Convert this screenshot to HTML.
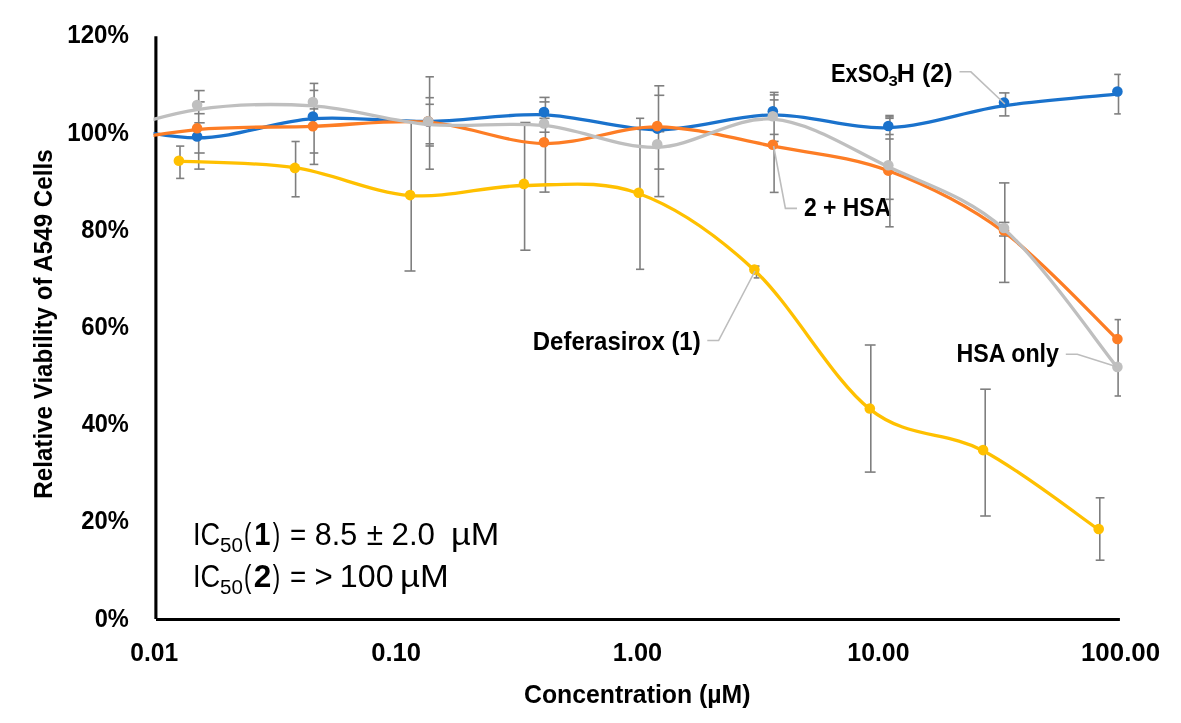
<!DOCTYPE html>
<html><head><meta charset="utf-8"><title>Relative Viability of A549 Cells</title>
<style>
html,body{margin:0;padding:0;background:#fff;}
body{width:1181px;height:723px;overflow:hidden;}
svg{display:block;will-change:transform;}
text{font-family:"Liberation Sans",sans-serif;}
</style></head><body>
<svg width="1181" height="723" viewBox="0 0 1181 723">
<defs><clipPath id="plot"><rect x="153.5" y="20" width="1000" height="600"/></clipPath></defs>
<rect x="0" y="0" width="1181" height="723" fill="#fff"/>

<g stroke="#000" stroke-width="3" fill="none">
<line x1="155.9" y1="36.2" x2="155.9" y2="618.9" stroke-width="3.1"/>
<line x1="156.0" y1="619.55" x2="1119.9" y2="619.55" stroke-width="2.9"/>
</g>
<g fill="#000">
<text x="67.28" y="43.40" font-size="25.44" font-weight="bold" textLength="61.55" lengthAdjust="spacingAndGlyphs">120%</text>
<text x="67.28" y="140.60" font-size="25.44" font-weight="bold" textLength="61.55" lengthAdjust="spacingAndGlyphs">100%</text>
<text x="81.25" y="237.80" font-size="25.44" font-weight="bold" textLength="47.58" lengthAdjust="spacingAndGlyphs">80%</text>
<text x="81.13" y="335.00" font-size="25.44" font-weight="bold" textLength="47.70" lengthAdjust="spacingAndGlyphs">60%</text>
<text x="81.64" y="432.20" font-size="25.44" font-weight="bold" textLength="47.18" lengthAdjust="spacingAndGlyphs">40%</text>
<text x="81.17" y="529.40" font-size="25.44" font-weight="bold" textLength="47.65" lengthAdjust="spacingAndGlyphs">20%</text>
<text x="94.67" y="626.60" font-size="25.44" font-weight="bold" textLength="34.16" lengthAdjust="spacingAndGlyphs">0%</text>
<text x="130.23" y="660.80" font-size="25.44" font-weight="bold" textLength="47.86" lengthAdjust="spacingAndGlyphs">0.01</text>
<text x="371.19" y="660.80" font-size="25.44" font-weight="bold" textLength="49.86" lengthAdjust="spacingAndGlyphs">0.10</text>
<text x="612.80" y="660.80" font-size="25.44" font-weight="bold" textLength="49.34" lengthAdjust="spacingAndGlyphs">1.00</text>
<text x="847.33" y="660.80" font-size="25.44" font-weight="bold" textLength="62.18" lengthAdjust="spacingAndGlyphs">10.00</text>
<text x="1080.97" y="660.80" font-size="25.44" font-weight="bold" textLength="79.19" lengthAdjust="spacingAndGlyphs">100.00</text>
<text x="523.98" y="703.00" font-size="25.44" font-weight="bold" textLength="226.55" lengthAdjust="spacingAndGlyphs">Concentration (µM)</text>
<text transform="translate(51.8,498.71) rotate(-90)" x="0" y="0" font-size="25.73" font-weight="bold" textLength="349.30" lengthAdjust="spacingAndGlyphs">Relative Viability of A549 Cells</text>
<text x="192.98" y="545.10" font-size="31.40" textLength="27.25" lengthAdjust="spacingAndGlyphs">IC</text>
<text x="220.08" y="552.30" font-size="20.57" textLength="22.82" lengthAdjust="spacingAndGlyphs">50</text>
<text x="244.12" y="545.10" font-size="31.40" textLength="7.41" lengthAdjust="spacingAndGlyphs">(</text>
<text x="254.16" y="545.10" font-size="31.40" font-weight="bold" textLength="16.25" lengthAdjust="spacingAndGlyphs">1</text>
<text x="272.87" y="545.10" font-size="31.40" textLength="7.41" lengthAdjust="spacingAndGlyphs">)</text>
<text x="290.04" y="545.10" font-size="31.40" textLength="16.23" lengthAdjust="spacingAndGlyphs">=</text>
<text x="314.77" y="545.10" font-size="31.40" textLength="42.41" lengthAdjust="spacingAndGlyphs">8.5</text>
<text x="366.76" y="545.10" font-size="31.40" textLength="16.27" lengthAdjust="spacingAndGlyphs">±</text>
<text x="391.53" y="545.10" font-size="31.40" textLength="43.50" lengthAdjust="spacingAndGlyphs">2.0</text>
<text x="450.96" y="545.10" font-size="31.40" textLength="48.25" lengthAdjust="spacingAndGlyphs">µM</text>
<text x="192.98" y="586.80" font-size="31.40" textLength="27.25" lengthAdjust="spacingAndGlyphs">IC</text>
<text x="220.08" y="594.00" font-size="20.57" textLength="22.82" lengthAdjust="spacingAndGlyphs">50</text>
<text x="244.12" y="586.80" font-size="31.40" textLength="7.41" lengthAdjust="spacingAndGlyphs">(</text>
<text x="253.71" y="586.80" font-size="31.40" font-weight="bold" textLength="17.56" lengthAdjust="spacingAndGlyphs">2</text>
<text x="272.87" y="586.80" font-size="31.40" textLength="7.41" lengthAdjust="spacingAndGlyphs">)</text>
<text x="290.04" y="586.80" font-size="31.40" textLength="16.23" lengthAdjust="spacingAndGlyphs">=</text>
<text x="314.56" y="586.80" font-size="31.40" textLength="18.27" lengthAdjust="spacingAndGlyphs">&gt;</text>
<text x="339.85" y="586.80" font-size="31.40" textLength="53.71" lengthAdjust="spacingAndGlyphs">100</text>
<text x="400.14" y="586.80" font-size="31.40" textLength="48.70" lengthAdjust="spacingAndGlyphs">µM</text>
</g>
<g fill="#000">
<text x="831.04" y="82.30" font-size="24.85" font-weight="bold" textLength="58.17" lengthAdjust="spacingAndGlyphs">ExSO</text>
<text x="888.52" y="86.40" font-size="13.71" font-weight="bold" textLength="9.29" lengthAdjust="spacingAndGlyphs">3</text>
<text x="896.82" y="82.30" font-size="24.85" font-weight="bold" textLength="55.83" lengthAdjust="spacingAndGlyphs">H (2)</text>
<text x="803.91" y="216.30" font-size="24.85" font-weight="bold" textLength="87.20" lengthAdjust="spacingAndGlyphs">2 + HSA</text>
<text x="532.80" y="350.40" font-size="24.85" font-weight="bold" textLength="167.90" lengthAdjust="spacingAndGlyphs">Deferasirox (1)</text>
<text x="956.56" y="362.00" font-size="24.85" font-weight="bold" textLength="102.47" lengthAdjust="spacingAndGlyphs">HSA only</text>
</g>
<g stroke="#7F7F7F" stroke-width="1.6" fill="none">
<line x1="198.70" y1="90.60" x2="198.70" y2="169.10"/>
<line x1="194.30" y1="90.60" x2="204.70" y2="90.60"/>
<line x1="194.30" y1="101.90" x2="204.70" y2="101.90"/>
<line x1="194.30" y1="113.70" x2="204.70" y2="113.70"/>
<line x1="194.30" y1="122.80" x2="204.70" y2="122.80"/>
<line x1="194.30" y1="153.00" x2="204.70" y2="153.00"/>
<line x1="194.30" y1="169.10" x2="204.70" y2="169.10"/>
<line x1="314.10" y1="83.40" x2="314.10" y2="164.40"/>
<line x1="309.70" y1="83.40" x2="318.30" y2="83.40"/>
<line x1="309.70" y1="90.40" x2="318.30" y2="90.40"/>
<line x1="309.70" y1="108.90" x2="318.30" y2="108.90"/>
<line x1="309.70" y1="153.00" x2="318.30" y2="153.00"/>
<line x1="309.70" y1="164.40" x2="318.30" y2="164.40"/>
<line x1="429.60" y1="76.80" x2="429.60" y2="169.20"/>
<line x1="425.50" y1="76.80" x2="433.90" y2="76.80"/>
<line x1="425.50" y1="97.70" x2="433.90" y2="97.70"/>
<line x1="425.50" y1="104.30" x2="433.90" y2="104.30"/>
<line x1="425.50" y1="143.80" x2="433.90" y2="143.80"/>
<line x1="425.50" y1="146.00" x2="433.90" y2="146.00"/>
<line x1="425.50" y1="169.20" x2="433.90" y2="169.20"/>
<line x1="545.40" y1="97.40" x2="545.40" y2="192.10"/>
<line x1="539.40" y1="97.40" x2="549.60" y2="97.40"/>
<line x1="539.40" y1="101.90" x2="549.60" y2="101.90"/>
<line x1="539.40" y1="118.30" x2="549.60" y2="118.30"/>
<line x1="539.40" y1="132.20" x2="549.60" y2="132.20"/>
<line x1="539.40" y1="192.10" x2="549.60" y2="192.10"/>
<line x1="658.50" y1="85.80" x2="658.50" y2="196.60"/>
<line x1="654.30" y1="85.80" x2="664.30" y2="85.80"/>
<line x1="654.30" y1="95.30" x2="664.30" y2="95.30"/>
<line x1="654.30" y1="131.70" x2="664.30" y2="131.70"/>
<line x1="654.30" y1="169.10" x2="664.30" y2="169.10"/>
<line x1="654.30" y1="196.60" x2="664.30" y2="196.60"/>
<line x1="774.10" y1="92.40" x2="774.10" y2="192.40"/>
<line x1="769.80" y1="92.40" x2="778.60" y2="92.40"/>
<line x1="769.80" y1="94.90" x2="778.60" y2="94.90"/>
<line x1="769.80" y1="99.90" x2="778.60" y2="99.90"/>
<line x1="769.80" y1="134.40" x2="778.60" y2="134.40"/>
<line x1="769.80" y1="141.40" x2="778.60" y2="141.40"/>
<line x1="769.80" y1="192.40" x2="778.60" y2="192.40"/>
<line x1="889.90" y1="115.50" x2="889.90" y2="226.80"/>
<line x1="885.30" y1="115.50" x2="893.70" y2="115.50"/>
<line x1="885.30" y1="116.90" x2="893.70" y2="116.90"/>
<line x1="885.30" y1="118.30" x2="893.70" y2="118.30"/>
<line x1="885.30" y1="134.50" x2="893.70" y2="134.50"/>
<line x1="885.30" y1="139.00" x2="893.70" y2="139.00"/>
<line x1="885.30" y1="199.30" x2="893.70" y2="199.30"/>
<line x1="885.30" y1="226.80" x2="893.70" y2="226.80"/>
<line x1="1005.50" y1="92.90" x2="1005.50" y2="115.90"/>
<line x1="999.10" y1="92.90" x2="1009.50" y2="92.90"/>
<line x1="999.10" y1="115.90" x2="1009.50" y2="115.90"/>
<line x1="1004.80" y1="182.90" x2="1004.80" y2="282.40"/>
<line x1="999.00" y1="182.90" x2="1009.40" y2="182.90"/>
<line x1="999.00" y1="222.40" x2="1009.40" y2="222.40"/>
<line x1="999.00" y1="236.00" x2="1009.40" y2="236.00"/>
<line x1="999.00" y1="282.40" x2="1009.40" y2="282.40"/>
<line x1="1118.50" y1="74.40" x2="1118.50" y2="113.90"/>
<line x1="1114.20" y1="74.40" x2="1120.80" y2="74.40"/>
<line x1="1114.20" y1="113.90" x2="1120.80" y2="113.90"/>
<line x1="1118.10" y1="319.60" x2="1118.10" y2="396.00"/>
<line x1="1114.60" y1="319.60" x2="1121.00" y2="319.60"/>
<line x1="1114.60" y1="396.00" x2="1121.00" y2="396.00"/>
<line x1="180.00" y1="146.10" x2="180.00" y2="178.40"/>
<line x1="176.10" y1="146.10" x2="184.30" y2="146.10"/>
<line x1="176.10" y1="178.40" x2="184.30" y2="178.40"/>
<line x1="295.60" y1="141.50" x2="295.60" y2="196.80"/>
<line x1="291.50" y1="141.50" x2="299.70" y2="141.50"/>
<line x1="291.50" y1="196.80" x2="299.70" y2="196.80"/>
<line x1="411.20" y1="120.60" x2="411.20" y2="271.00"/>
<line x1="404.50" y1="120.60" x2="415.50" y2="120.60"/>
<line x1="404.50" y1="271.00" x2="415.50" y2="271.00"/>
<line x1="524.60" y1="122.50" x2="524.60" y2="250.20"/>
<line x1="520.30" y1="122.50" x2="530.50" y2="122.50"/>
<line x1="520.30" y1="250.20" x2="530.50" y2="250.20"/>
<line x1="640.00" y1="118.30" x2="640.00" y2="269.30"/>
<line x1="636.00" y1="118.30" x2="644.20" y2="118.30"/>
<line x1="636.00" y1="269.30" x2="644.20" y2="269.30"/>
<line x1="756.50" y1="266.10" x2="756.50" y2="277.90"/>
<line x1="753.70" y1="266.10" x2="759.50" y2="266.10"/>
<line x1="753.70" y1="277.90" x2="759.50" y2="277.90"/>
<line x1="870.80" y1="345.00" x2="870.80" y2="472.10"/>
<line x1="864.80" y1="345.00" x2="875.60" y2="345.00"/>
<line x1="864.80" y1="472.10" x2="875.60" y2="472.10"/>
<line x1="985.20" y1="389.20" x2="985.20" y2="516.00"/>
<line x1="980.20" y1="389.20" x2="990.80" y2="389.20"/>
<line x1="980.20" y1="516.00" x2="990.80" y2="516.00"/>
<line x1="1099.80" y1="497.80" x2="1099.80" y2="560.20"/>
<line x1="1095.70" y1="497.80" x2="1104.50" y2="497.80"/>
<line x1="1095.70" y1="560.20" x2="1104.50" y2="560.20"/>
</g>
<path d="M178.90,161.14 C198.23,162.24 256.37,162.00 294.90,167.73 C333.43,173.46 371.93,192.57 410.10,195.53 C448.27,198.49 485.80,185.85 523.90,185.50 C562.00,185.15 600.28,179.31 638.70,193.43 C677.12,207.55 715.88,234.25 754.40,270.20 C792.92,306.14 831.68,379.02 869.80,409.10 C907.92,439.18 944.95,430.62 983.10,450.70 C1021.25,470.78 1079.43,516.45 1098.70,529.60" fill="none" stroke="#FFC000" stroke-width="3.30" stroke-linejoin="round" stroke-linecap="round" clip-path="url(#plot)"/>

<circle cx="178.90" cy="160.70" r="5.30" fill="#FFC000"/>
<circle cx="294.90" cy="167.90" r="5.30" fill="#FFC000"/>
<circle cx="410.10" cy="195.10" r="5.30" fill="#FFC000"/>
<circle cx="523.90" cy="183.90" r="5.30" fill="#FFC000"/>
<circle cx="638.70" cy="192.80" r="5.30" fill="#FFC000"/>
<circle cx="754.40" cy="269.60" r="5.30" fill="#FFC000"/>
<circle cx="869.80" cy="408.50" r="5.30" fill="#FFC000"/>
<circle cx="983.10" cy="450.10" r="5.30" fill="#FFC000"/>
<circle cx="1098.70" cy="529.00" r="5.30" fill="#FFC000"/>
<path d="M82.00,118.73 C101.18,121.91 158.62,137.81 197.10,137.80 C235.58,137.79 274.38,121.41 312.90,118.69 C351.42,115.97 389.68,122.12 428.20,121.47 C466.72,120.82 505.83,113.41 544.00,114.79 C582.17,116.17 619.07,129.77 657.20,129.77 C695.33,129.77 734.28,115.14 772.80,114.79 C811.32,114.44 849.77,129.21 888.30,127.69 C926.83,126.17 965.82,111.26 1004.00,105.67 C1042.18,100.08 1098.50,96.05 1117.40,94.13" fill="none" stroke="#1A72CC" stroke-width="3.30" stroke-linejoin="round" stroke-linecap="round" clip-path="url(#plot)"/>

<circle cx="197.10" cy="136.50" r="5.30" fill="#1A72CC"/>
<circle cx="312.90" cy="116.50" r="5.30" fill="#1A72CC"/>
<circle cx="428.20" cy="121.60" r="5.30" fill="#1A72CC"/>
<circle cx="544.00" cy="112.10" r="5.30" fill="#1A72CC"/>
<circle cx="657.20" cy="128.60" r="5.30" fill="#1A72CC"/>
<circle cx="772.80" cy="111.20" r="5.30" fill="#1A72CC"/>
<circle cx="888.30" cy="126.00" r="5.30" fill="#1A72CC"/>
<circle cx="1004.00" cy="102.60" r="5.30" fill="#1A72CC"/>
<circle cx="1117.40" cy="91.50" r="5.30" fill="#1A72CC"/>
<path d="M82.00,147.17 C101.18,144.25 158.62,133.15 197.10,129.68 C235.58,126.21 274.38,127.61 312.90,126.36 C351.42,125.11 389.68,119.30 428.20,122.18 C466.72,125.06 505.83,142.85 544.00,143.63 C582.17,144.41 619.07,126.41 657.20,126.83 C695.33,127.25 734.28,138.81 772.80,146.14 C811.32,153.47 849.77,156.48 888.30,170.79 C926.83,185.10 965.82,203.87 1004.00,232.00 C1042.18,260.13 1098.50,321.63 1117.40,339.56" fill="none" stroke="#FD7D25" stroke-width="3.30" stroke-linejoin="round" stroke-linecap="round" clip-path="url(#plot)"/>

<circle cx="197.10" cy="128.20" r="5.30" fill="#FD7D25"/>
<circle cx="312.90" cy="126.20" r="5.30" fill="#FD7D25"/>
<circle cx="428.20" cy="121.20" r="5.30" fill="#FD7D25"/>
<circle cx="544.00" cy="142.30" r="5.30" fill="#FD7D25"/>
<circle cx="657.20" cy="126.10" r="5.30" fill="#FD7D25"/>
<circle cx="772.80" cy="144.70" r="5.30" fill="#FD7D25"/>
<circle cx="888.30" cy="170.60" r="5.30" fill="#FD7D25"/>
<circle cx="1004.00" cy="230.50" r="5.30" fill="#FD7D25"/>
<circle cx="1117.40" cy="339.00" r="5.30" fill="#FD7D25"/>
<path d="M82.00,140.04 C101.18,134.97 158.62,115.32 197.10,109.63 C235.58,103.94 274.38,103.43 312.90,105.90 C351.42,108.37 389.68,121.20 428.20,124.46 C466.72,127.72 505.83,121.68 544.00,125.48 C582.17,129.28 619.07,148.31 657.20,147.26 C695.33,146.21 734.28,115.89 772.80,119.16 C811.32,122.43 849.77,148.55 888.30,166.86 C926.83,185.17 965.82,195.56 1004.00,229.00 C1042.18,262.44 1098.50,344.42 1117.40,367.50" fill="none" stroke="#BFBFBF" stroke-width="3.30" stroke-linejoin="round" stroke-linecap="round" clip-path="url(#plot)"/>

<circle cx="197.10" cy="105.00" r="5.30" fill="#BFBFBF"/>
<circle cx="312.90" cy="102.00" r="5.30" fill="#BFBFBF"/>
<circle cx="428.20" cy="121.30" r="5.30" fill="#BFBFBF"/>
<circle cx="544.00" cy="123.50" r="5.30" fill="#BFBFBF"/>
<circle cx="657.20" cy="144.20" r="5.30" fill="#BFBFBF"/>
<circle cx="772.80" cy="116.20" r="5.30" fill="#BFBFBF"/>
<circle cx="888.30" cy="165.20" r="5.30" fill="#BFBFBF"/>
<circle cx="1004.00" cy="228.00" r="5.30" fill="#BFBFBF"/>
<circle cx="1117.40" cy="366.90" r="5.30" fill="#BFBFBF"/>
<g stroke="#BDBDBD" stroke-width="1.6" fill="none">
<polyline points="959.5,71.8 970.9,71.8 1004.9,104"/>
<polyline points="797,208.4 785.4,208.4 773.6,146"/>
<polyline points="707.3,340.5 718.6,340.5 755,271"/>
<polyline points="1065.8,354.2 1077.3,354.2 1116,366.5"/>
</g>
</svg>
</body></html>
